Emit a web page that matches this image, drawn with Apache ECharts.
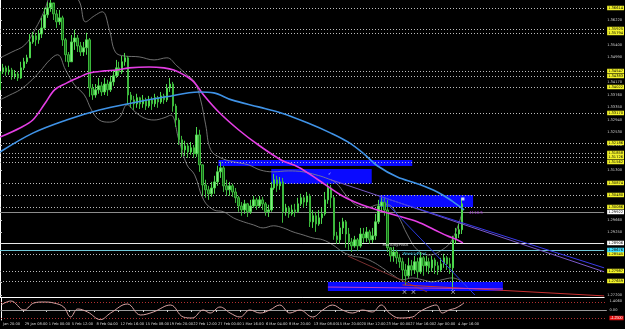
<!DOCTYPE html>
<html><head><meta charset="utf-8">
<script src="https://cdn.jsdelivr.net/npm/echarts@6/dist/echarts.min.js"></script>
<style>html,body{margin:0;padding:0;background:#000;}#c{width:625px;height:329px;}</style>
</head><body><div id="c"></div>
<script>
// ---- candle data (H4), open = previous close ----
const firstOpen = 1.3393;
const closes = [
1.3452,1.3465,1.3452,1.3458,1.3439,1.3445,1.3432,1.3465,1.3485,1.3498,
1.3550,1.3570,1.3557,1.3576,1.3596,1.3639,1.3662,1.3678,1.3642,1.3616,
1.3629,1.3557,1.3508,1.3485,1.3550,1.3563,1.3537,1.3517,1.3531,1.3557,
1.3399,1.3376,1.3393,1.3406,1.3386,1.3412,1.3393,1.3419,1.3439,1.3465,
1.3452,1.3485,1.3498,1.3376,1.3360,1.3347,1.3367,1.3347,1.3360,1.3340,
1.3360,1.3347,1.3367,1.3353,1.3373,1.3360,1.3399,1.3412,1.3340,1.3294,
1.3229,1.3196,1.3209,1.3189,1.3203,1.3183,1.3245,1.3147,1.3081,1.3065,
1.3052,1.3071,1.3091,1.3124,1.3137,1.3078,1.3065,1.3078,1.3058,1.3039,
1.3012,1.2999,1.3019,1.2993,1.3012,1.3032,1.3012,1.3032,1.3019,1.2993,
1.2999,1.3071,1.3098,1.3078,1.3091,1.2993,1.3006,1.2986,1.2999,1.2993,
1.3019,1.3039,1.3025,1.3045,1.2960,1.2980,1.2953,1.2973,1.2986,1.3032,
1.3071,1.3039,1.2914,1.2901,1.2940,1.2960,1.2920,1.2894,1.2881,1.2901,
1.2881,1.2920,1.2907,1.2927,1.2901,1.2914,1.2960,1.3012,1.3025,1.2999,
1.2875,1.2848,1.2861,1.2842,1.2829,1.2802,1.2783,1.2816,1.2802,1.2829,
1.2796,1.2842,1.2816,1.2829,1.2809,1.2835,1.2816,1.2802,1.2822,1.2842,
1.2822,1.2809,1.2901,1.2920,1.2934,1.3019];
const highs = [
1.3481,1.3478,1.3472,1.3472,1.3465,1.3458,1.3452,1.3485,1.3498,1.3508,
1.3576,1.3583,1.3580,1.3590,1.3629,1.3662,1.3681,1.3688,1.3675,1.3655,
1.3655,1.3636,1.3563,1.3517,1.3573,1.3590,1.3573,1.3550,1.3550,1.3580,
1.3563,1.3412,1.3412,1.3432,1.3419,1.3432,1.3426,1.3439,1.3458,1.3491,
1.3485,1.3504,1.3514,1.3504,1.3386,1.3373,1.3380,1.3370,1.3376,1.3367,
1.3373,1.3370,1.3380,1.3373,1.3386,1.3380,1.3412,1.3432,1.3419,1.3347,
1.3301,1.3242,1.3226,1.3219,1.3222,1.3212,1.3271,1.3262,1.3147,1.3098,
1.3078,1.3091,1.3111,1.3144,1.3157,1.3144,1.3098,1.3091,1.3085,1.3071,
1.3045,1.3025,1.3032,1.3022,1.3032,1.3045,1.3039,1.3045,1.3042,1.3025,
1.3016,1.3091,1.3117,1.3111,1.3107,1.3104,1.3019,1.3012,1.3016,1.3019,
1.3039,1.3052,1.3045,1.3058,1.3052,1.2999,1.2993,1.2999,1.3006,1.3058,
1.3088,1.3081,1.3045,1.2927,1.2960,1.2973,1.2966,1.2940,1.2907,1.2914,
1.2907,1.2940,1.2940,1.2943,1.2934,1.2940,1.2986,1.3032,1.3042,1.3039,
1.3032,1.2875,1.2878,1.2868,1.2855,1.2842,1.2822,1.2842,1.2835,1.2848,
1.2842,1.2861,1.2848,1.2848,1.2842,1.2848,1.2842,1.2829,1.2842,1.2855,
1.2848,1.2842,1.2914,1.2940,1.2953,1.3039];
const lows = [
1.3376,1.3445,1.3439,1.3442,1.3426,1.3429,1.3422,1.3429,1.3458,1.3478,
1.3498,1.3544,1.3537,1.3544,1.3563,1.3590,1.3629,1.3649,1.3622,1.3596,
1.3606,1.3537,1.3485,1.3468,1.3485,1.3524,1.3517,1.3504,1.3504,1.3508,
1.3370,1.3360,1.3367,1.3380,1.3373,1.3376,1.3373,1.3386,1.3406,1.3432,
1.3439,1.3445,1.3472,1.3344,1.3334,1.3327,1.3334,1.3330,1.3334,1.3327,
1.3334,1.3327,1.3337,1.3334,1.3347,1.3347,1.3353,1.3386,1.3321,1.3271,
1.3212,1.3173,1.3176,1.3170,1.3180,1.3170,1.3173,1.3124,1.3045,1.3039,
1.3032,1.3042,1.3052,1.3078,1.3104,1.3058,1.3045,1.3045,1.3042,1.3022,
1.2993,1.2980,1.2986,1.2976,1.2986,1.3006,1.2999,1.3006,1.2999,1.2980,
1.2976,1.2993,1.3065,1.3058,1.3065,1.2957,1.2980,1.2973,1.2980,1.2976,
1.2989,1.3012,1.3006,1.3012,1.2943,1.2940,1.2927,1.2947,1.2953,1.2980,
1.3019,1.3006,1.2901,1.2888,1.2888,1.2920,1.2875,1.2868,1.2861,1.2875,
1.2865,1.2875,1.2891,1.2894,1.2888,1.2891,1.2901,1.2953,1.2993,1.2980,
1.2861,1.2829,1.2829,1.2822,1.2809,1.2770,1.2753,1.2776,1.2783,1.2789,
1.2776,1.2789,1.2783,1.2796,1.2789,1.2796,1.2789,1.2786,1.2796,1.2809,
1.2802,1.2789,1.2737,1.2888,1.2907,1.2920];

// ---- moving averages & bands: [bar, price] ----
const maPink = [[0,1.3238],[6.7,1.3268],[11,1.3294],[15,1.3347],[18.3,1.3393],[22.3,1.3415],[26.7,1.3435],[30,1.3448],[35,1.3455],[39,1.3458],[43.3,1.3465],[50,1.3468],[55,1.3465],[58.3,1.3458],[61.7,1.3442],[65,1.3419],[68.3,1.3376],[73.3,1.3321],[80,1.3262],[86.7,1.3212],[94.3,1.3163],[100,1.3140],[106.7,1.3098],[114.3,1.3048],[119,1.3025],[124.3,1.3006],[133.3,1.2980],[140,1.2960],[145.7,1.2934],[150,1.2914],[153.3,1.2901],[155.3,1.2891]];
const maBlue = [[0,1.3189],[11,1.3251],[22.3,1.3294],[33.3,1.3327],[44.3,1.3350],[55.7,1.3370],[66.7,1.3386],[71.7,1.3383],[77.7,1.3360],[86.7,1.3337],[94.3,1.3317],[103.3,1.3284],[111,1.3251],[116.7,1.3222],[121.7,1.3186],[126.7,1.3143],[133.3,1.3107],[140,1.3085],[146.7,1.3058],[151.7,1.3028],[155.7,1.2999]];
const bbUpper = [[0,1.3498],[4,1.3517],[8.3,1.3540],[11.7,1.3590],[15,1.3655],[17.3,1.3714],[20.7,1.3737],[24,1.3714],[26.7,1.3681],[28.7,1.3616],[31.7,1.3636],[34.3,1.3649],[36.7,1.3590],[38.7,1.3517],[41.7,1.3504],[46.7,1.3501],[51.7,1.3491],[56,1.3498],[59.3,1.3472],[62.7,1.3442],[65.3,1.3419],[67.3,1.3360],[69,1.3278],[70.7,1.3196],[74,1.3170],[78.3,1.3157],[83.3,1.3147],[87.3,1.3130],[91.7,1.3124],[96.7,1.3127],[101.7,1.3124],[106,1.3114],[109.3,1.3104],[112.7,1.3088],[116,1.3048],[119.3,1.3016],[123.3,1.3006],[126.7,1.3016],[130,1.3016],[133.3,1.2983],[136.7,1.2917],[140,1.2868],[144,1.2851],[148.3,1.2868],[151.7,1.2901],[155.3,1.2999]];
const bbLower = [[0,1.3360],[3.3,1.3376],[6.7,1.3393],[10,1.3419],[13.3,1.3452],[16.7,1.3491],[19.3,1.3508],[22,1.3458],[25,1.3409],[28.3,1.3376],[30.7,1.3327],[33.3,1.3294],[36.7,1.3287],[40,1.3301],[42.7,1.3344],[45.3,1.3321],[48.3,1.3301],[51.7,1.3294],[55,1.3301],[57.3,1.3310],[60,1.3229],[62.7,1.3147],[65.3,1.3114],[68.3,1.3032],[71.7,1.2999],[75,1.2993],[78.3,1.2973],[81.7,1.2960],[85,1.2950],[88.3,1.2940],[91.7,1.2947],[95,1.2940],[98.3,1.2927],[101.7,1.2917],[105,1.2907],[108.3,1.2901],[111.7,1.2884],[115,1.2861],[118.3,1.2848],[121.7,1.2842],[125,1.2829],[128.3,1.2809],[131.7,1.2786],[135,1.2770],[138.3,1.2776],[141.7,1.2770],[145,1.2763],[148.3,1.2770],[151.7,1.2776],[155.3,1.2763]];

// ---- trend lines ----
const tlPurple = [[111,1.3098],[202.67,1.2796]];
const tlBlue = [[127.7,1.3042],[202.67,1.2809]];
const tlSteep = [[128.3,1.3035],[159.3,1.2720]];
const tlBrown = [[116.7,1.2848],[143.3,1.2730]];
const tlRed = [[135,1.2753],[202.67,1.2717]];
const tlPink = [[110,1.2746],[168.7,1.2740]];

// ---- supply/demand zones: [barFrom, barTo, priceTop, priceBottom] ----
const zones = [[73.3,138.3,1.3163,1.3143],[91,124.7,1.3133,1.3085],[127.3,158.7,1.3048,1.3009],[110,168.7,1.2763,1.2733]];

// ---- horizontal levels ----
const levelPrices = [1.36614,1.35925,1.35794,1.34547,1.34383,1.34022,1.33170,1.32186,1.31858,1.31726,1.31562,1.30874,1.30480,1.30086,1.28545,1.27987,1.27659];
const grayLine = 1.29922, monthlyPivot = 1.28906, weeklyPivot = 1.28676;

// ---- axis ticks ----
const yTickVals = [1.36220,1.35400,1.34990,1.34170,1.33760,1.33350,1.32940,1.32530,1.32120,1.31300,1.29660,1.29250,1.27610,1.27200];
const xTickBars = [0,7.3,15.3,23,31.3,39.3,47.7,55.7,63.7,72,80,88,95.7,104,112,120,128.3,136.3,144.3,152.3];
const xTickLabels = ["Jan 20:00","29 Jan 08:00","1 Feb 00:00","5 Feb 12:00","8 Feb 04:00","12 Feb 16:00","15 Feb 08:00","19 Feb 20:00","22 Feb 12:00","27 Feb 00:00","1 Mar 16:00","6 Mar 04:00","8 Mar 20:00","13 Mar 08:00","15 Mar 20:00","20 Mar 12:00","23 Mar 00:00","27 Mar 16:00","2 Apr 00:00","4 Apr 16:00"];

// ---- oscillator pane ----
const osc = [[0,0.781],[3.3,1.406],[7.7,0],[11,1.093],[14.3,1.25],[17.7,1.093],[21,0.469],[23.3,-1.093],[25.7,0.156],[29,-0.312],[33.3,-1.5],[36.7,-0.469],[42.3,0.937],[46.7,-0.781],[51,-0.312],[56.7,0.781],[61,-1.093],[64,-1.25],[67.7,0],[70,-0.469],[73.3,0.469],[76.7,-0.469],[80,-1.093],[83.3,0],[86.7,-0.469],[90,0],[93.3,0.781],[96.7,-0.469],[100,0],[104.3,-1.093],[107.7,0],[111,0.781],[114.3,0],[117.7,-0.469],[121,0],[124.3,-0.312],[127.3,0.781],[130,-0.469],[133.3,-1.25],[137.7,-1.093],[140,-0.312],[143.3,0.469],[145.7,0.781],[147.7,-0.469],[150,0],[152.3,0.312],[155,1.093]];
const oscTickVals = [1.406, 0];
const oscLevels = [1.25, 0, -1.25];

// ---- markers & texts ----
const crossMarks = [[135.7,1.2730],[138.7,1.2730],[152,1.2730]];
const notes = [
  {bar:110, price:1.3117, text:'✓', color:'#ffffff'},
  {bar:157.3, price:1.2989, text:'4118.5', color:'#c040ff'},
  {bar:128.3, price:1.2884, text:'MonthlyPivot', color:'#ffffff'},
  {bar:135, price:1.2855, text:'WeeklyPivot', color:'#40e0ff'}
];
const lastMark = [[155.3,1.3035]];

const chart = echarts.init(document.getElementById('c'));
const candleData = closes.map((c,i)=>[i, i===0?firstOpen:closes[i-1], c, lows[i], highs[i]]);
const f5 = v => v.toFixed(5);
const FS = 3.6;
const lvlLabel = (bg, fg) => ({show:true, position:'end', distance:3, formatter:p=>f5(p.value), fontSize:FS, color:fg, backgroundColor:bg, padding:[0.5,1,0,1], fontFamily:'DejaVu Sans'});

const option = {
  backgroundColor:'#000',
  animation:false,
  grid:[{left:0,right:17,top:0,height:297},{left:0,right:17,top:298,height:22}],
  xAxis:[
    {type:'value',gridIndex:0,min:0,max:202.67,axisLine:{show:true,lineStyle:{color:'#ffffff',width:1}},axisTick:{show:false},axisLabel:{show:false},splitLine:{show:false}},
    {type:'value',gridIndex:1,min:0,max:202.67,axisLine:{show:true,lineStyle:{color:'#9a9a9a'}},
      axisTick:{show:true,customValues:xTickBars,length:2,inside:false,lineStyle:{color:'#cfcfcf'}},
      axisLabel:{show:true,customValues:xTickBars,hideOverlap:false,formatter:v=>{let k=0,d=1e9;xTickBars.forEach((b,i)=>{if(Math.abs(b-v)<d){d=Math.abs(b-v);k=i;}});return xTickLabels[k];},color:'#d8d8d8',fontSize:FS,align:'left',margin:2,padding:[0,0,0,2],fontFamily:'DejaVu Sans'},
      splitLine:{show:false}}
  ],
  yAxis:[
    {type:'value',gridIndex:0,position:'right',min:1.27134,max:1.36876,axisLine:{show:true,lineStyle:{color:'#ffffff'}},
      axisTick:{show:true,customValues:yTickVals,length:2,lineStyle:{color:'#cfcfcf'}},
      axisLabel:{show:true,customValues:yTickVals,hideOverlap:false,formatter:f5,color:'#d0d0d0',fontSize:FS,margin:3,fontFamily:'DejaVu Sans'},splitLine:{show:false}},
    {type:'value',gridIndex:1,position:'right',min:-1.562,max:1.875,axisLine:{show:true,lineStyle:{color:'#ffffff'}},
      axisTick:{show:false},axisLabel:{show:true,customValues:oscTickVals,hideOverlap:false,formatter:v=>v===0?'0.00':v.toFixed(4),color:'#d0d0d0',fontSize:FS,margin:3,fontFamily:'DejaVu Sans'},splitLine:{show:false}}
  ],
  series:[
    {type:'line',data:[],xAxisIndex:0,yAxisIndex:0,z:1,silent:true,
      markArea:{silent:true,itemStyle:{color:'#0a0aff',opacity:1},data:zones.map(z=>[{coord:[z[0],z[2]]},{coord:[z[1],z[3]]}])}},
    {type:'line',data:[],xAxisIndex:0,yAxisIndex:0,z:2,silent:true,
      markLine:{silent:true,precision:5,symbol:['none','none'],lineStyle:{color:'#bdbdbd',type:[1,2],width:1},
        label:lvlLabel('#f2f22a','#000'),
        data:levelPrices.map(p=>({yAxis:p})).concat([
          {yAxis:grayLine,lineStyle:{color:'#8c8c8c',type:'solid'},label:lvlLabel('#ffffff','#000')},
          {yAxis:monthlyPivot,lineStyle:{color:'#e8e8e8',type:'solid'},label:lvlLabel('#ffffff','#000')},
          {yAxis:weeklyPivot,lineStyle:{color:'#6fc8d8',type:'solid'},label:lvlLabel('#40e0ff','#000')}
        ])}},
    {type:'line',data:bbUpper,smooth:0.4,symbol:'none',lineStyle:{color:'#8a8a8a',width:0.8},z:3},
    {type:'line',data:bbLower,smooth:0.4,symbol:'none',lineStyle:{color:'#8a8a8a',width:0.8},z:3},
    {type:'candlestick',data:candleData,encode:{x:0,y:[1,2,3,4]},barWidth:2,z:5,
      itemStyle:{color:'#86e886',color0:'#176a17',borderColor:'#4cd64c',borderColor0:'#3cb83c',borderWidth:1}},
    {type:'line',data:maPink,smooth:0.35,symbol:'none',lineStyle:{color:'#e43ee4',width:1.6},z:6},
    {type:'line',data:maBlue,smooth:0.35,symbol:'none',lineStyle:{color:'#3f92e6',width:1.6},z:6},
    {type:'line',data:tlPurple,symbol:'none',lineStyle:{color:'#7a58c8',width:1},z:6},
    {type:'line',data:tlBlue,symbol:'none',lineStyle:{color:'#3a3ae8',width:1},z:6},
    {type:'line',data:tlSteep,symbol:'none',lineStyle:{color:'#2a3ae0',width:1},z:6},
    {type:'line',data:tlBrown,symbol:'none',lineStyle:{color:'#7a3030',width:1},z:6},
    {type:'line',data:tlRed,symbol:'none',lineStyle:{color:'#c83030',width:1},z:6},
    {type:'line',data:tlPink,symbol:'none',lineStyle:{color:'#c040c0',width:1},z:6},
    {type:'scatter',data:crossMarks,symbol:'path://M0,1L1,0L5,4L9,0L10,1L6,5L10,9L9,10L5,6L1,10L0,9L4,5Z',symbolSize:4,itemStyle:{color:'#ffffff'},z:8},
    {type:'scatter',data:lastMark,symbol:'rect',symbolSize:3,itemStyle:{color:'#ffffff'},z:8},
    {type:'scatter',data:notes.map(n=>({value:[n.bar,n.price],name:n.text,label:{color:n.color}})),symbolSize:0,z:9,
      label:{show:true,position:'right',distance:0,formatter:p=>p.name,fontSize:4,fontFamily:'DejaVu Sans'}},
    {type:'line',xAxisIndex:1,yAxisIndex:1,data:osc,smooth:0.4,symbol:'none',lineStyle:{color:'#d9a3a3',width:1},z:5,
      markLine:{silent:true,precision:4,symbol:['none','none'],
        data:oscLevels.map((v,i)=>({yAxis:v,lineStyle:{color:i===1?'#9a9a9a':'#b03030',type:[1,2],width:1},
          label:i===2?{show:true,position:'end',distance:3,formatter:p=>p.value.toFixed(4),fontSize:FS,color:'#fff',backgroundColor:'#e01010',padding:[0.5,1,0,1]}:{show:false}}))}}
  ]
};
chart.setOption(option);
</script></body></html>
